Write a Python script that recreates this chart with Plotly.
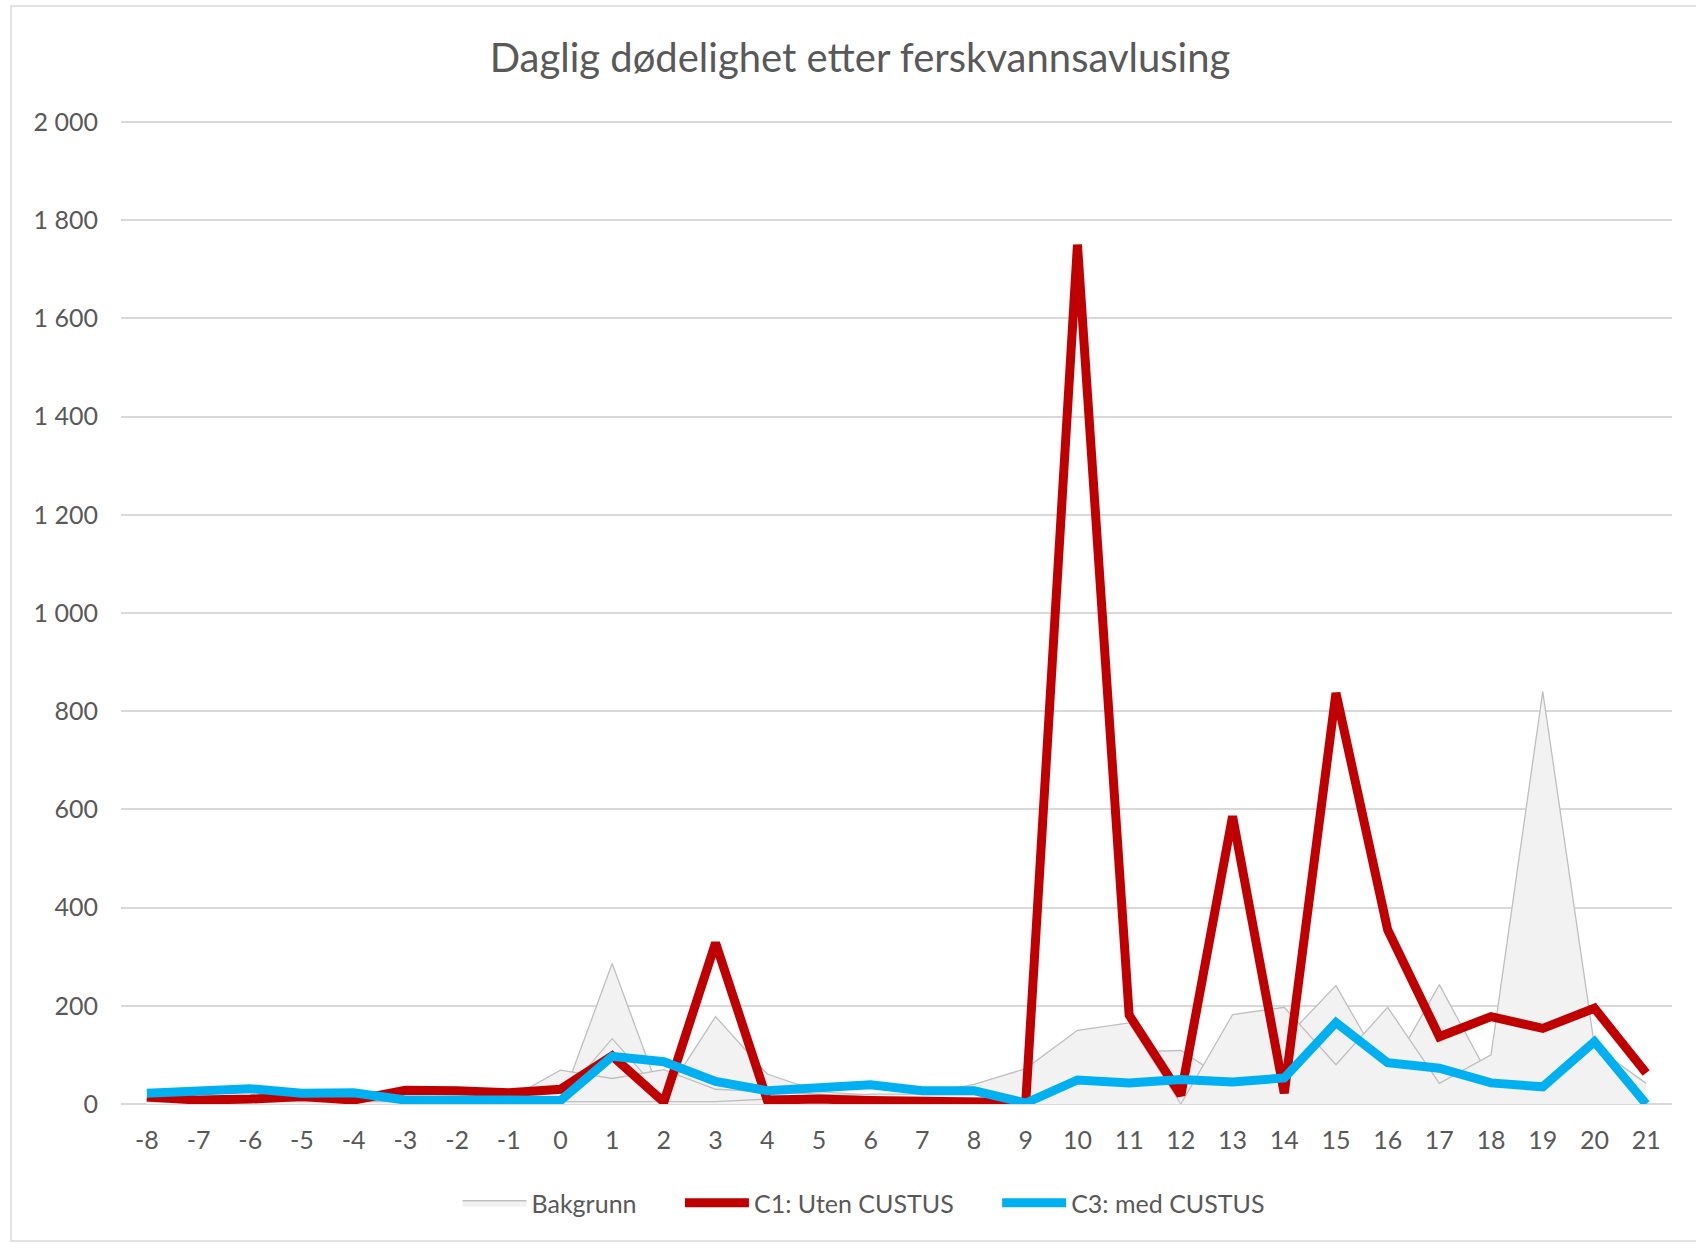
import plotly.graph_objects as go

categories = [str(i) for i in range(-8, 22)]

# Background areas (several overlapping "Bakgrunn" series)
bg_a = [8, 8, 10, 10, 8, 8, 8, 10, 0, 286, 0, 5, 5, 5, 5, 5, 5, 5, 5, 5, 5, 5, 5, 5, 5, 5, 5, 5, 5, 5]
bg_b = [5, 5, 5, 5, 5, 5, 5, 5, 10, 133, 15, 178, 61, 25, 18, 12, 10, 5, 5, 5, 5, 5, 5, 5, 5, 5, 5, 5, 5, 5]
bg_c = [10, 12, 15, 12, 10, 8, 8, 10, 69, 52, 70, 30, 25, 20, 15, 10, 10, 10, 20, 106, 109, 40, 131, 241, 58, 243, 48, 20, 15, 10]
bg_d = [5, 5, 5, 5, 5, 5, 5, 5, 5, 5, 5, 5, 10, 15, 20, 20, 40, 72, 150, 165, 0, 182, 197, 80, 197, 42, 100, 840, 118, 42]

c1_uten = [14, 8, 10, 15, 8, 28, 27, 23, 30, 98, 4, 328, 8, 10, 7, 6, 5, 3, 1750, 181, 18, 586, 22, 837, 355, 137, 178, 154, 195, 63]
c3_med = [22, 28, 31, 22, 23, 8, 10, 8, 7, 97, 86, 46, 27, 32, 39, 27, 27, 2, 49, 43, 50, 45, 53, 166, 84, 73, 43, 35, 127, 0]

names = ["Bakgrunn", "C1: Uten CUSTUS", "C3: med CUSTUS"]

GRID = "#D9D9D9"
TXT = "#595959"
FONT = "Lato"
PAD = "\u00a0" * 6

fig = go.Figure()
for i, bg in enumerate([bg_a, bg_b, bg_c, bg_d]):
    fig.add_trace(go.Scatter(
        x=categories, y=bg, mode="lines", fill="tozeroy",
        fillcolor="#F2F2F2", line=dict(color="#BFBFBF", width=1.3),
        name=names[0] + PAD, showlegend=(i == 0), legendgroup="bg", hoverinfo="skip"))

fig.add_trace(go.Scatter(x=categories, y=c1_uten, mode="lines", name=names[1] + PAD,
                         line=dict(color="#C00000", width=9)))
fig.add_trace(go.Scatter(x=categories, y=c3_med, mode="lines", name=names[2],
                         line=dict(color="#00B0F0", width=9)))

W, H = 1696, 1244
L, R, B = 121, 24, 140
Y0_PX, Y2000_PX = 1104, 122
YMAX = 2010
T = int(round(Y0_PX - (Y0_PX - Y2000_PX) * YMAX / 2000))
pw, ph = W - L - R, H - T - B

def px(xp):
    return (xp - L) / pw

def py(yp):
    return (H - B - yp) / ph

fig.update_layout(
    width=W, height=H,
    margin=dict(l=L, r=R, t=T, b=B, pad=0),
    paper_bgcolor="white", plot_bgcolor="white",
    separators=", ",
    font=dict(family=FONT, color=TXT, size=25),
    title=dict(text="Daglig dødelighet etter ferskvannsavlusing",
               x=860 / W, xanchor="center", xref="container",
               y=1 - 58 / H, yanchor="middle", yref="container",
               font=dict(family=FONT, size=40, color=TXT)),
    xaxis=dict(type="category", range=[-0.5, 29.5], showgrid=False, zeroline=False,
               showline=False, ticks="", ticklabelstandoff=19,
               tickfont=dict(size=25, color=TXT)),
    yaxis=dict(range=[0, YMAX], tickvals=list(range(0, 2001, 200)), tickformat=",d",
               showgrid=True, gridcolor=GRID, gridwidth=1.5, zeroline=True,
               zerolinecolor=GRID, zerolinewidth=1.5, showline=False, ticks="",
               ticklabelstandoff=22, tickfont=dict(size=25, color=TXT)),
    legend=dict(orientation="h", x=px(864), xanchor="center", y=py(1203), yanchor="middle",
                font=dict(size=25, color=TXT), itemwidth=64, bgcolor="rgba(0,0,0,0)",
                traceorder="normal"),
    shapes=[dict(type="rect", xref="paper", yref="paper",
                 x0=px(11), x1=px(1720), y0=py(1241), y1=py(6),
                 line=dict(color=GRID, width=1.5), fillcolor="rgba(0,0,0,0)", layer="below")],
    hovermode=False,
)

fig.write_html("out.html", config={"displayModeBar": False},
               post_script="document.body.style.margin='0';")
